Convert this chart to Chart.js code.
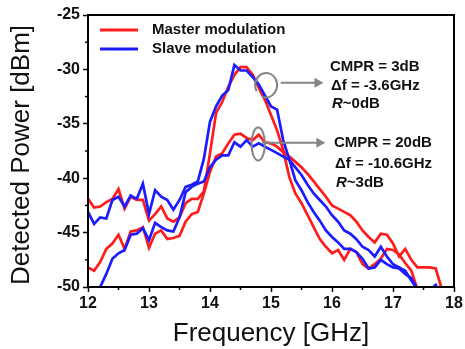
<!DOCTYPE html>
<html><head><meta charset="utf-8">
<script src="https://cdn.jsdelivr.net/npm/chart.js@4"></script>
<style>html,body{margin:0;padding:0;background:#fff}#wrap{width:465px;height:349px}</style>
</head><body><div id="wrap"><canvas id="c" width="465" height="349"></canvas></div>
<script>
// ---- data ----
const freqs = [
 12.0,12.1,12.2,12.3,12.4,12.5,12.6,12.7,12.8,12.9,
 13.0,13.1,13.2,13.3,13.4,13.5,13.6,13.7,13.8,13.9,
 14.0,14.1,14.2,14.3,14.4,14.5,14.6,14.7,14.8,14.9,
 15.0,15.1,15.2,15.3,15.4,15.5,15.6,15.7,15.8,15.9,
 16.0,16.1,16.2,16.3,16.4,16.5,16.6,16.7,16.8,16.9,
 17.0,17.1,17.2,17.3,17.4,17.5,17.6,17.7,17.8];
const masterHigh = [
 -41.9,-42.7,-42.6,-42.2,-41.9,-41.0,-42.8,-41.7,-42.0,-42.0,
 -43.9,-43.3,-42.6,-43.7,-44.0,-43.6,-42.3,-41.9,-41.9,-41.2,
 -37.7,-34.0,-33.0,-31.6,-30.5,-29.8,-29.8,-30.5,-31.7,-32.8,
 -34.2,-35.6,-37.4,-39.9,-41.4,-42.3,-43.4,-44.5,-45.6,-46.3,
 -46.9,-46.6,-47.5,-46.5,-46.8,-47.9,-48.3,-47.9,-47.4,-46.5,
 -46.6,-47.0,-47.8,-48.5,-50.2,null,null,null,null];
const masterLow = [
 -48.2,-48.5,-47.7,-46.5,-46.0,-45.2,-46.5,-44.9,-44.8,-44.5,
 -46.4,-45.1,-44.8,-45.6,-45.5,-45.3,-44.0,-43.3,-43.1,-41.4,
 -39.4,-38.0,-37.7,-36.8,-36.0,-35.9,-36.3,-36.5,-36.0,-36.7,
 -36.8,-37.1,-37.6,-38.0,-38.5,-39.0,-39.6,-40.3,-41.0,-41.7,
 -42.5,-42.8,-43.1,-43.4,-44.0,-44.8,-45.4,-45.9,-45.1,-45.2,
 -46.0,-47.2,-46.5,-47.5,-48.2,-48.2,-48.2,-48.3,-50.2];
const slaveHigh = [
 -43.1,-44.2,-43.6,-43.7,-42.0,-41.7,-42.6,-41.6,-41.9,-40.5,
 -43.3,-41.1,-41.7,-42.0,-42.9,-42.0,-40.8,-40.6,-40.3,-38.2,
 -34.8,-33.4,-32.4,-31.9,-29.6,-30.1,-30.1,-30.7,-31.4,-32.4,
 -33.4,-33.7,-36.5,-38.3,-40.2,-41.1,-42.2,-43.1,-43.9,-44.8,
 -45.4,-45.9,-46.5,-46.5,-46.8,-47.4,-48.3,-48.2,-47.5,-47.9,
 -48.2,-48.3,-48.8,-49.2,-50.2,-50.8,-50.3,-49.8,-50.8];
const slaveLow = [
 null,-50.3,-50.0,-48.8,-47.4,-46.9,-46.6,-45.2,-45.1,-44.6,
 -45.7,-44.1,-44.5,-44.8,-44.9,-43.6,-41.3,-40.8,-40.5,-40.3,
 -39.0,-38.3,-37.9,-37.9,-36.7,-37.1,-36.5,-37.1,-36.8,-37.1,
 -37.4,-37.7,-38.0,-38.3,-39.0,-39.7,-40.6,-41.4,-42.0,-42.6,
 -43.4,-44.0,-44.8,-45.1,-45.6,-46.3,-46.6,-47.2,-46.3,-47.2,
 -47.9,-48.2,-48.5,-49.4,-50.2,null,null,null,null];
const xTicks = [12,13,14,15,16,17,18];
const yTicks = [-50,-45,-40,-35,-30,-25];
const xTitle = 'Frequency [GHz]';
const yTitle = 'Detected Power [dBm]';
const legendLabels = ['Master modulation','Slave modulation'];
// annotations (data units)
const ellipses = [ // cx, cy, rx(GHz), ry(dB), gapped
 [14.92,-31.45,0.18,1.12,true],
 [14.79,-36.86,0.11,1.52,false]];
const arrows = [ // x0, x1, y
 [15.16,15.86,-31.22],
 [14.85,15.89,-36.74]];
const notes1 = ['CMPR = 3dB','\u0394f = -3.6GHz','~0dB'];
const notes2 = ['CMPR = 20dB','\u0394f = -10.6GHz','~3dB'];
const notePos1 = [15.967,-29.75,-31.53,-33.18];
const notePos2 = [16.033,-36.79,-38.69,-40.41];

const RED = '#ff1c1c', BLUE = '#1c1cff', GRAY = '#858585';
const FAM = '"Liberation Sans", Arial, sans-serif';
const pts = arr => freqs.map((f,i)=>({x:f,y:arr[i]}));

const deco = {
  id:'deco',
  afterDatasetsDraw(chart){
    const {ctx, chartArea:a, scales:{x,y}} = chart;
    ctx.save();
    // y title
    ctx.fillStyle = '#111'; ctx.font = '26px ' + FAM;
    ctx.textAlign = 'center'; ctx.textBaseline = 'middle';
    ctx.translate(22, (a.top+a.bottom)/2 + 4); ctx.rotate(-Math.PI/2);
    ctx.fillText(yTitle, 0, 0);
    ctx.setTransform(1,0,0,1,0,0);
    // annotations
    ctx.strokeStyle = GRAY; ctx.fillStyle = GRAY; ctx.lineWidth = 2;
    ellipses.forEach(([cx,cy,rx,ry,gap])=>{
      const px = x.getPixelForValue(cx), py = y.getPixelForValue(cy);
      const prx = x.getPixelForValue(cx+rx)-px, pry = py - y.getPixelForValue(cy+ry);
      ctx.beginPath();
      if (gap) ctx.ellipse(px,py,prx,pry,0,Math.PI*150/180,Math.PI*(110+360)/180);
      else ctx.ellipse(px,py,prx,pry,0,0,Math.PI*2);
      ctx.stroke();
    });
    arrows.forEach(([x0,x1,yy])=>{
      const p0 = x.getPixelForValue(x0), p1 = x.getPixelForValue(x1), py = y.getPixelForValue(yy);
      ctx.beginPath(); ctx.moveTo(p0,py); ctx.lineTo(p1-7,py); ctx.stroke();
      ctx.beginPath(); ctx.moveTo(p1,py); ctx.lineTo(p1-9,py-5); ctx.lineTo(p1-9,py+5); ctx.closePath(); ctx.fill();
    });
    ctx.fillStyle = '#111'; ctx.textBaseline = 'middle'; ctx.textAlign = 'left';
    [[notes1,notePos1],[notes2,notePos2]].forEach(([txt,pos])=>{
      const px = x.getPixelForValue(pos[0]);
      ctx.font = 'bold 15px ' + FAM;
      ctx.fillText(txt[0], px, y.getPixelForValue(pos[1]));
      ctx.fillText(txt[1], px+1, y.getPixelForValue(pos[2]));
      ctx.font = 'italic bold 15px ' + FAM;
      const py3 = y.getPixelForValue(pos[3]);
      ctx.fillText('R', px+2, py3);
      const w = ctx.measureText('R').width;
      ctx.font = 'bold 15px ' + FAM;
      ctx.fillText(txt[2], px+2+w, py3);
    });
    // legend
    const cols = [RED, BLUE];
    legendLabels.forEach((lab,i)=>{
      const ly = a.top + 15 + i*19;
      ctx.strokeStyle = cols[i]; ctx.lineWidth = 3;
      ctx.beginPath(); ctx.moveTo(a.left+12, ly); ctx.lineTo(a.left+50, ly); ctx.stroke();
      ctx.fillStyle = '#111'; ctx.font = 'bold 15px ' + FAM;
      ctx.fillText(lab, a.left+64, ly);
    });
    // minor ticks
    ctx.strokeStyle = '#000'; ctx.lineWidth = 1.5;
    for (let i=0;i<xTicks.length-1;i++){
      const px = x.getPixelForValue((xTicks[i]+xTicks[i+1])/2);
      ctx.beginPath(); ctx.moveTo(px,a.bottom); ctx.lineTo(px,a.bottom+3); ctx.stroke();
    }
    for (let i=0;i<yTicks.length-1;i++){
      const py = y.getPixelForValue((yTicks[i]+yTicks[i+1])/2);
      ctx.beginPath(); ctx.moveTo(a.left,py); ctx.lineTo(a.left-3,py); ctx.stroke();
    }
    // frame
    ctx.strokeStyle = '#000'; ctx.lineWidth = 2;
    ctx.strokeRect(a.left, a.top, a.right-a.left, a.bottom-a.top);
    ctx.restore();
  }
};

const tickFont = {family:FAM, size:16, weight:'bold'};
new Chart(document.getElementById('c'), {
  type:'line',
  data:{datasets:[
    {label:legendLabels[1], data:pts(slaveHigh), borderColor:BLUE},
    {label:legendLabels[1], data:pts(slaveLow), borderColor:BLUE},
    {label:legendLabels[0], data:pts(masterHigh), borderColor:RED},
    {label:legendLabels[0], data:pts(masterLow), borderColor:RED}
  ]},
  options:{
    responsive:false, animation:false, devicePixelRatio:1,
    layout:{padding:{top:15,right:11,left:0,bottom:0}},
    plugins:{legend:{display:false}, tooltip:{enabled:false}},
    elements:{point:{radius:0}, line:{borderWidth:2.7, tension:0, fill:false}},
    scales:{
      x:{type:'linear', min:12, max:18,
        afterBuildTicks(s){ s.ticks = xTicks.map(v=>({value:v})); },
        ticks:{font:tickFont, color:'#111', padding:2, maxRotation:0, autoSkip:false},
        grid:{drawOnChartArea:false, tickLength:5, tickColor:'#000', tickWidth:1.5},
        border:{display:false},
        title:{display:true, text:xTitle, color:'#111', font:{family:FAM, size:26}, padding:0},
        afterFit(s){ s.height = 62; }
      },
      y:{type:'linear', min:-50, max:-25,
        afterBuildTicks(s){ s.ticks = yTicks.map(v=>({value:v})); },
        ticks:{font:tickFont, color:'#111', padding:3, autoSkip:false},
        grid:{drawOnChartArea:false, tickLength:5, tickColor:'#000', tickWidth:1.5},
        border:{display:false},
        title:{display:false},
        afterFit(s){ s.width = 88; }
      }
    }
  },
  plugins:[deco]
});
</script></body></html>
